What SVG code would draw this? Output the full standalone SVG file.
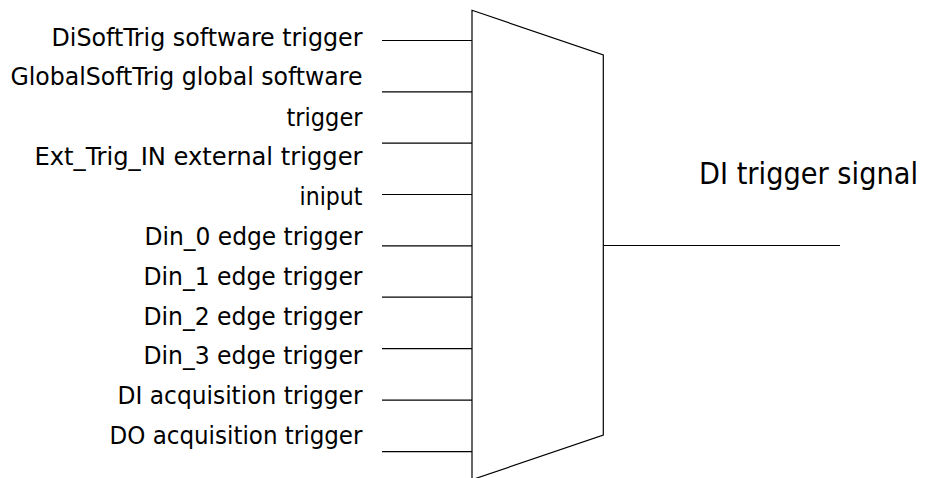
<svg xmlns="http://www.w3.org/2000/svg" width="926" height="478" viewBox="0 0 926 478">
<style>
.lbl{font-family:"DejaVu Sans Condensed","DejaVu Sans","Liberation Sans",sans-serif;font-stretch:condensed;font-size:25px;fill:#000;text-anchor:end}
.out{font-family:"DejaVu Sans Condensed","DejaVu Sans","Liberation Sans",sans-serif;font-stretch:condensed;font-size:30px;fill:#000}
.ln{stroke:#000;stroke-width:1.2;fill:none}
</style>
<rect width="926" height="478" fill="#fff"/>
<g id="labels">
<text class="lbl" x="362.5" y="45.5" textLength="311" lengthAdjust="spacingAndGlyphs">DiSoftTrig software trigger</text>
<text class="lbl" x="362.5" y="85" textLength="352" lengthAdjust="spacingAndGlyphs">GlobalSoftTrig global software</text>
<text class="lbl" x="362.5" y="125.5" textLength="76" lengthAdjust="spacingAndGlyphs">trigger</text>
<text class="lbl" x="362.5" y="165" textLength="328" lengthAdjust="spacingAndGlyphs">Ext_Trig_IN external trigger</text>
<text class="lbl" x="362.5" y="204.5" textLength="63" lengthAdjust="spacingAndGlyphs">iniput</text>
<text class="lbl" x="362.5" y="245" textLength="218" lengthAdjust="spacingAndGlyphs">Din_0 edge trigger</text>
<text class="lbl" x="362.5" y="285" textLength="219" lengthAdjust="spacingAndGlyphs">Din_1 edge trigger</text>
<text class="lbl" x="362.5" y="324.5" textLength="219" lengthAdjust="spacingAndGlyphs">Din_2 edge trigger</text>
<text class="lbl" x="362.5" y="364" textLength="219" lengthAdjust="spacingAndGlyphs">Din_3 edge trigger</text>
<text class="lbl" x="362.5" y="404" textLength="245" lengthAdjust="spacingAndGlyphs">DI acquisition trigger</text>
<text class="lbl" x="362.5" y="444" textLength="253" lengthAdjust="spacingAndGlyphs">DO acquisition trigger</text>
</g>
<g id="mux">
<polygon class="ln" points="472,10.3 603.3,55 603.3,435 472,479.7" fill="#fff"/>
</g>
<g id="output">
<text class="out" x="699" y="183.5" textLength="219" lengthAdjust="spacingAndGlyphs">DI trigger signal</text>
</g>
<g id="connectors">
<line class="ln" x1="382" y1="40.5" x2="472" y2="40.5"/>
<line class="ln" x1="382" y1="91.8" x2="472" y2="91.8"/>
<line class="ln" x1="382" y1="143.2" x2="472" y2="143.2"/>
<line class="ln" x1="382" y1="194.5" x2="472" y2="194.5"/>
<line class="ln" x1="382" y1="245.8" x2="472" y2="245.8"/>
<line class="ln" x1="382" y1="297.2" x2="472" y2="297.2"/>
<line class="ln" x1="382" y1="348.6" x2="472" y2="348.6"/>
<line class="ln" x1="382" y1="400.2" x2="472" y2="400.2"/>
<line class="ln" x1="382" y1="451.6" x2="472" y2="451.6"/>
<line class="ln" x1="603.3" y1="245.5" x2="840" y2="245.5"/>
</g>
</svg>
